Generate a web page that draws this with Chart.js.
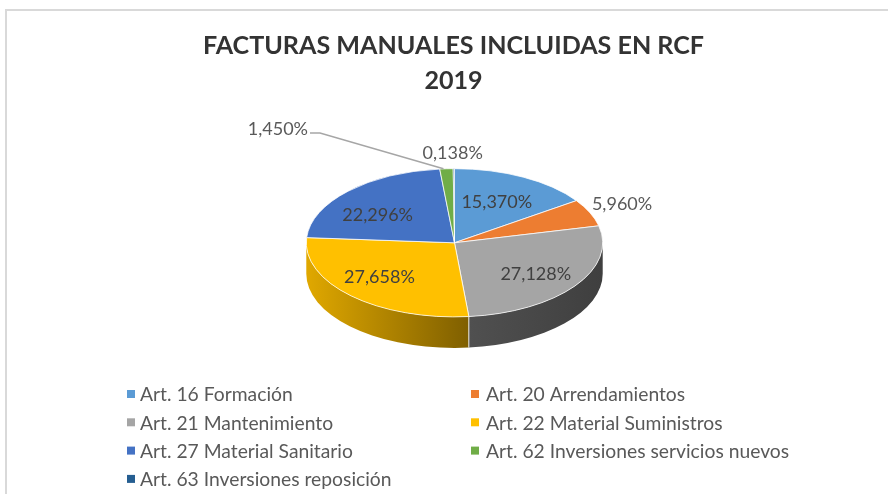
<!DOCTYPE html>
<html><head><meta charset="utf-8">
<style>
html,body{margin:0;padding:0;background:#fff;overflow:hidden}
#frame{position:absolute;left:5px;top:9px;width:883px;height:485px;border-left:2px solid #d9d9d9;border-top:2px solid #d9d9d9;box-sizing:border-box}
canvas{position:absolute;left:0;top:0}
</style>
<script src="https://cdn.jsdelivr.net/npm/chart.js@4/dist/chart.umd.js"></script>
</head><body>
<div id="frame"></div>
<canvas id="c" width="888" height="494"></canvas>
<script>
const categories = ["Art. 16 Formación","Art. 20 Arrendamientos","Art. 21 Mantenimiento","Art. 22 Material Suministros","Art. 27 Material Sanitario","Art. 62 Inversiones servicios nuevos","Art. 63 Inversiones reposición"];
const values = [15.370,5.960,27.128,27.658,22.296,1.450,0.138];
const valueLabels = ["15,370%","5,960%","27,128%","27,658%","22,296%","1,450%","0,138%"];
const sliceColors = ["#5B9BD5","#ED7D31","#A5A5A5","#FFC000","#4472C4","#70AD47","#255E91"];
const titleLines = ["FACTURAS MANUALES INCLUIDAS EN RCF","2019"];

const FONT = "Lato, 'Open Sans', sans-serif";
const tilt = 0.5, depth = 31, shiftX = 1, shiftY = -4.5;
const labelRadius = [0.6,1.2,0.6,0.6,0.6,1.2,1.2];
const labelOffsets = [[1,-1],[5,-3],[9,6],[-13,3],[-13,3],[-167,-25],[-1,-1]];
const labelInk = ["#404040","#595959","#404040","#404040","#404040","#595959","#595959"];
const sideStops = {2:["#505050","#3f3f3f"],3:["#e0a800","#7f5f00"]};

function sidePlugin(){
  return {
    id:"tilted",
    beforeDatasetsDraw(chart){
      const ctx = chart.ctx, arcs = chart.getDatasetMeta(0).data;
      const cx = arcs[0].x + shiftX, cy = arcs[0].y + shiftY, r = arcs[0].outerRadius;
      arcs.forEach((a,i)=>{
        const s = Math.max(a.startAngle,0), e = Math.min(a.endAngle,Math.PI);
        if(e<=s) return;
        const stops = sideStops[i]; if(!stops) return;
        const x1 = cx + Math.cos(s)*r, x2 = cx + Math.cos(e)*r;
        const g = ctx.createLinearGradient(x2,0,x1,0);
        g.addColorStop(0,stops[0]); g.addColorStop(1,stops[1]);
        ctx.beginPath();
        ctx.ellipse(cx,cy,r,r*tilt,0,s,e,false);
        ctx.ellipse(cx,cy+depth,r,r*tilt,0,e,s,true);
        ctx.closePath();
        ctx.fillStyle=g; ctx.fill();
      });
      const seam = arcs[2].endAngle;
      ctx.beginPath();
      ctx.moveTo(cx+Math.cos(seam)*r,cy+Math.sin(seam)*r*tilt);
      ctx.lineTo(cx+Math.cos(seam)*r,cy+Math.sin(seam)*r*tilt+depth);
      ctx.strokeStyle="#e8e8e8"; ctx.lineWidth=1; ctx.stroke();
      ctx.save();
      ctx.translate(cx,cy); ctx.scale(1,tilt); ctx.translate(-arcs[0].x,-arcs[0].y);
    },
    afterDatasetsDraw(chart){ chart.ctx.restore(); },
    afterDraw(chart){
      const ctx = chart.ctx, arcs = chart.getDatasetMeta(0).data;
      const cx = arcs[0].x + shiftX, cy = arcs[0].y + shiftY, r = arcs[0].outerRadius;
      ctx.save();
      ctx.textAlign="center"; ctx.textBaseline="middle";
      ctx.font="18px "+FONT;
      arcs.forEach((a,i)=>{
        const m=(a.startAngle+a.endAngle)/2;
        const x=cx+Math.cos(m)*r*labelRadius[i]+labelOffsets[i][0];
        const y=cy+Math.sin(m)*r*tilt*labelRadius[i]+labelOffsets[i][1];
        ctx.fillStyle=labelInk[i];
        ctx.fillText(valueLabels[i],x,y);
        if(i===5){
          const w=ctx.measureText(valueLabels[i]).width;
          const lx=x+w/2+2;
          ctx.beginPath();
          ctx.moveTo(lx,y+4);ctx.lineTo(lx+10,y+4);
          ctx.lineTo(cx+Math.cos(m)*r-3,cy+Math.sin(m)*r*tilt);
          ctx.strokeStyle="#A6A6A6";ctx.lineWidth=1.5;ctx.stroke();
        }
      });
      ctx.textAlign="left";
      ctx.font="19.3px "+FONT;
      categories.forEach((t,i)=>{
        const col=i%2,row=Math.floor(i/2);
        const mx=col?471:127,y=394+row*28.3;
        ctx.fillStyle=sliceColors[i];
        ctx.fillRect(mx,y-4,8,8);
        ctx.fillStyle="#595959";
        ctx.fillText(t,mx+(col?15:13),y+1);
      });
      ctx.restore();
    }
  };
}

new Chart(document.getElementById("c"),{
  type:"pie",
  data:{labels:categories,datasets:[{data:values,backgroundColor:sliceColors,borderColor:"#ffffff",borderWidth:1}]},
  options:{
    responsive:false,animation:false,
    layout:{padding:{left:19,right:0,top:0,bottom:98}},
    plugins:{
      legend:{display:false},tooltip:{enabled:false},
      title:{display:true,text:titleLines,color:"#333333",font:{family:FONT,size:25.1,weight:"bold",lineHeight:1.4},padding:{top:28.3,bottom:0}}
    }
  },
  plugins:[sidePlugin()]
});
</script>
</body></html>
